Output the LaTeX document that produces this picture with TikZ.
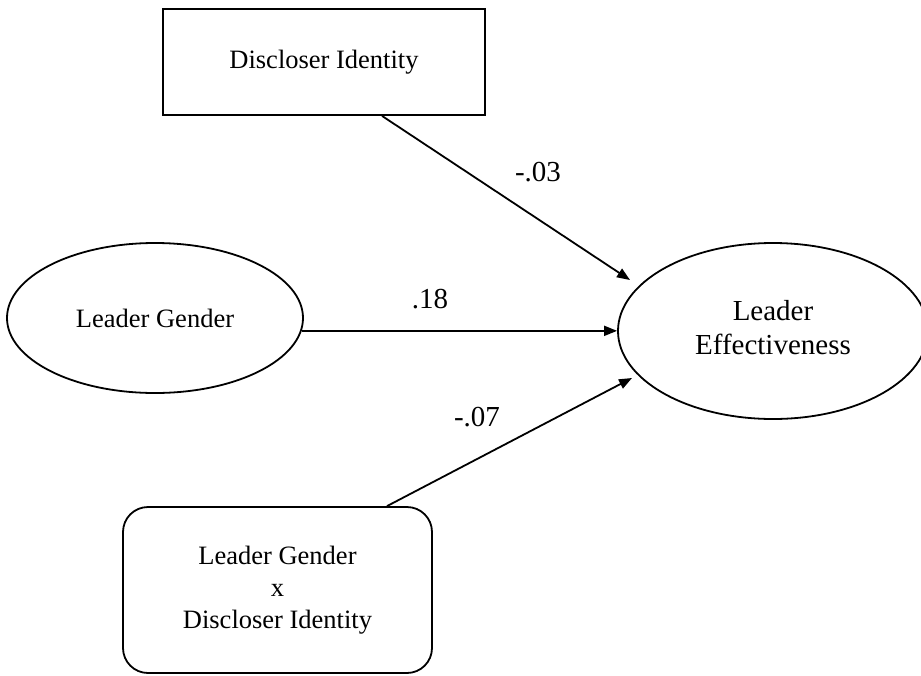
\documentclass[tikz,border=0pt]{standalone}
\usepackage{fontspec}
\setmainfont{Liberation Serif}
\usetikzlibrary{shapes.geometric,arrows.meta,calc}

\begin{document}
\begin{tikzpicture}[x=1pt,y=-1pt,
  every node/.style={inner sep=0pt},
  shapeline/.style={draw=black,line width=1.8pt},
  boxtext/.style={font=\fontsize{26.5}{32}\selectfont,align=center},
  coef/.style={font=\fontsize{29}{34}\selectfont,text height=0.676em,text depth=0pt},
  path/.style={line width=1.8pt,-{Triangle[length=13pt,width=10pt]}}
]
\useasboundingbox (0,0) rectangle (921,675);

% predictors
\node[shapeline,boxtext,rectangle,minimum width=322pt,minimum height=106pt]
  (di) at (324,62) {Discloser Identity};
\node[shapeline,boxtext,ellipse,minimum width=296pt,minimum height=150pt]
  (lg) at (155,318) {Leader Gender};
\node[shapeline,boxtext,rectangle,rounded corners=25pt,minimum width=309pt,minimum height=166pt]
  (ix) at (277.5,590) {\raisebox{-10pt}{\begin{tabular}{@{}c@{}}Leader Gender\\x\\Discloser Identity\end{tabular}}};

% outcome
\node[shapeline,ellipse,minimum width=310pt,minimum height=176pt,
  font=\fontsize{29}{34}\selectfont]
  (le) at (773,331) {\raisebox{7pt}{\begin{tabular}{@{}c@{}}Leader\\Effectiveness\end{tabular}}};

% arrow tips
\coordinate (t1) at ($(le.center)+(-143,-51)$);
\coordinate (t3) at ($(le.center)+(-141,47)$);

% paths
\draw[path] ($(di.south)+(58,0)$) -- (t1);
\draw[path] (lg.-5.5) -- (lg.-5.5 -| le.west);
\draw[path] ($(ix.north)+(109.5,0)$) -- (t3);

% coefficients
\node[coef] (c1) at (538,178) {-.03};
\node[coef] (c2) at (430,305) {.18};
\node[coef] (c3) at (477,423) {-.07};
\end{tikzpicture}
\end{document}
